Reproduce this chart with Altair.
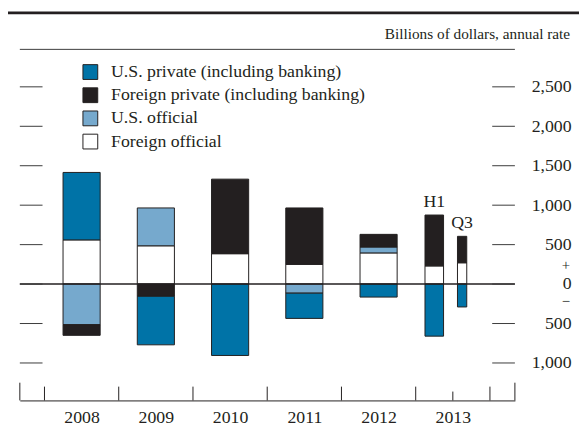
import altair as alt
import pandas as pd

# ---------------- data ----------------
periods = ["2008", "2009", "2010", "2011", "2012", "2013 H1", "2013 Q3"]
period_start = [2008.0, 2009.0, 2010.0, 2011.0, 2012.0, 2013.0, 2013.5]
period_end = [2009.0, 2010.0, 2011.0, 2012.0, 2013.0, 2013.5, 2013.75]
period_notes = ["", "", "", "", "", "H1", "Q3"]

series = [
    "U.S. private (including banking)",
    "Foreign private (including banking)",
    "U.S. official",
    "Foreign official",
]
colors = ["#0073A7", "#231F20", "#76A9CD", "#FFFFFF"]

us_private = [855, -615, -905, -320, -165, -660, -290]
foreign_private = [-135, -155, 945, 715, 160, 645, 335]
us_official = [-515, 480, 0, -115, 75, 0, 0]
foreign_official = [560, 485, 385, 250, 395, 230, 270]

year_ticks = [2008, 2009, 2010, 2011, 2012, 2013, 2014]
year_labels = [2008.5, 2009.5, 2010.5, 2011.5, 2012.5, 2013.5]
half_year_ticks = [2013.5]
y_ticks = [2500, 2000, 1500, 1000, 500, 0, -500, -1000]
units_text = "Billions of dollars, annual rate"

# ---------------- style ----------------
FONT = "Liberation Serif"
INK = "#231F20"
W, H = 502, 356

# stacking order from the zero line outward
stack_order = ["Foreign official", "U.S. official",
               "Foreign private (including banking)", "U.S. private (including banking)"]
values = {
    series[0]: us_private,
    series[1]: foreign_private,
    series[2]: us_official,
    series[3]: foreign_official,
}

rows, notes = [], []
for i, p in enumerate(periods):
    c = (period_start[i] + period_end[i]) / 2
    q = (period_end[i] - period_start[i]) / 4
    pos, neg = 0, 0
    for s in stack_order:
        v = values[s][i]
        if v > 0:
            y0, y1 = pos, pos + v
            pos = y1
        elif v < 0:
            y0, y1 = neg, neg + v
            neg = y1
        else:
            continue
        rows.append(dict(period=p, series=s, x0=c - q, x1=c + q, y0=y0, y1=y1, value=v))
    if period_notes[i]:
        notes.append(dict(note=period_notes[i], xc=c, top=pos))

df = pd.DataFrame(rows)
df_notes = pd.DataFrame(notes)

X = alt.Scale(domain=[2007.668, 2014.336], nice=False, zero=False)
Y = alt.Scale(domain=[-1475, 2975], nice=False, zero=False)

xaxis = alt.Axis(orient="bottom", values=year_labels, labelExpr="'' + floor(datum.value)",
                 ticks=False, tickSize=0, domain=True, domainColor=INK, domainWidth=1,
                 labelPadding=8, labelFontSize=18, labelFont=FONT, labelColor=INK,
                 labelFlush=False, labelOverlap=False, grid=False, title=None)
yaxis = alt.Axis(orient="right", values=y_ticks, labelExpr="format(abs(datum.value), ',')",
                 domain=False, ticks=False, tickSize=0, grid=False, labelAlign="right",
                 labelBaseline="middle", labelPadding=57, labelFontSize=18, labelFont=FONT,
                 labelColor=INK, labelFlush=False, labelOverlap=False, title=None)

legend = alt.Legend(orient="none", legendX=62.5, legendY=14, title=None, symbolType="square",
                    symbolSize=225, labelFontSize=18, labelFont=FONT, labelColor=INK,
                    labelOffset=12, rowPadding=3.5, symbolStrokeColor=INK, symbolStrokeWidth=1,
                    padding=0, labelLimit=500)

bars = alt.Chart(df).mark_bar(stroke=INK, strokeWidth=1).encode(
    x=alt.X("x0:Q", scale=X, axis=xaxis),
    x2="x1:Q",
    y=alt.Y("y0:Q", scale=Y, axis=yaxis),
    y2="y1:Q",
    color=alt.Color("series:N", scale=alt.Scale(domain=series, range=colors), legend=legend),
)

df_y = pd.DataFrame({"v": y_ticks})
left_ticks = alt.Chart(df_y).mark_rule(color="#3a3a3a", strokeWidth=1).encode(
    y=alt.Y("v:Q", scale=Y, axis=yaxis), x=alt.value(0), x2=alt.value(23))
right_ticks = alt.Chart(df_y).mark_rule(color="#3a3a3a", strokeWidth=1).encode(
    y=alt.Y("v:Q", scale=Y, axis=yaxis), x=alt.value(W - 23), x2=alt.value(W))

zero_line = alt.Chart(pd.DataFrame({"v": [0]})).mark_rule(color=INK, strokeWidth=1.5).encode(
    y=alt.Y("v:Q", scale=Y, axis=yaxis), x=alt.value(0), x2=alt.value(W))

plus = alt.Chart(pd.DataFrame({"v": [0], "s": ["+"]})).mark_text(
    align="right", baseline="middle", dy=-19, fontSize=15, font=FONT, color=INK).encode(
    y=alt.Y("v:Q", scale=Y, axis=yaxis), x=alt.value(558), text="s:N")
minus = alt.Chart(pd.DataFrame({"v": [0], "s": ["\u2212"]})).mark_text(
    align="right", baseline="middle", dy=17, fontSize=15, font=FONT, color=INK).encode(
    y=alt.Y("v:Q", scale=Y, axis=yaxis), x=alt.value(558), text="s:N")

year_rules = alt.Chart(pd.DataFrame({"t": year_ticks})).mark_rule(color=INK, strokeWidth=1).encode(
    x=alt.X("t:Q", scale=X, axis=xaxis), y=alt.value(H), y2=alt.value(H - 14))
half_rules = alt.Chart(pd.DataFrame({"t": half_year_ticks})).mark_rule(color=INK, strokeWidth=1).encode(
    x=alt.X("t:Q", scale=X, axis=xaxis), y=alt.value(H), y2=alt.value(H - 9))
frame_l = alt.Chart(pd.DataFrame({"k": [0]})).mark_rule(color=INK, strokeWidth=1).encode(
    x=alt.value(0), y=alt.value(H), y2=alt.value(H - 18))
frame_r = alt.Chart(pd.DataFrame({"k": [0]})).mark_rule(color=INK, strokeWidth=1).encode(
    x=alt.value(W), y=alt.value(H), y2=alt.value(H - 18))

top_thick = alt.Chart(pd.DataFrame({"k": [0]})).mark_rule(color=INK, strokeWidth=3).encode(
    x=alt.value(-12), x2=alt.value(567), y=alt.value(-37))
top_thin = alt.Chart(pd.DataFrame({"k": [0]})).mark_rule(color="#3a3a3a", strokeWidth=1).encode(
    x=alt.value(0), x2=alt.value(W), y=alt.value(0))

units = alt.Chart(pd.DataFrame({"t": [units_text]})).mark_text(
    align="right", baseline="middle", fontSize=15.5, font=FONT, color=INK).encode(
    x=alt.value(558), y=alt.value(-15.3), text="t:N")

note_text = alt.Chart(df_notes).mark_text(
    align="center", baseline="alphabetic", dy=-8, fontSize=18, font=FONT, color=INK).encode(
    x=alt.X("xc:Q", scale=X, axis=xaxis), y=alt.Y("top:Q", scale=Y, axis=yaxis), text="note:N")

chart = alt.layer(
    bars, zero_line, left_ticks, right_ticks, plus, minus,
    year_rules, half_rules, frame_l, frame_r, top_thick, top_thin, units, note_text,
).properties(
    width=W, height=H,
    autosize=alt.AutoSizeParams(type="none"),
    padding={"left": 12, "top": 39, "right": 65, "bottom": 25},
).configure(font=FONT).configure_view(stroke=None)

chart.save("out.html", embed_options={"renderer": "svg", "actions": False})
